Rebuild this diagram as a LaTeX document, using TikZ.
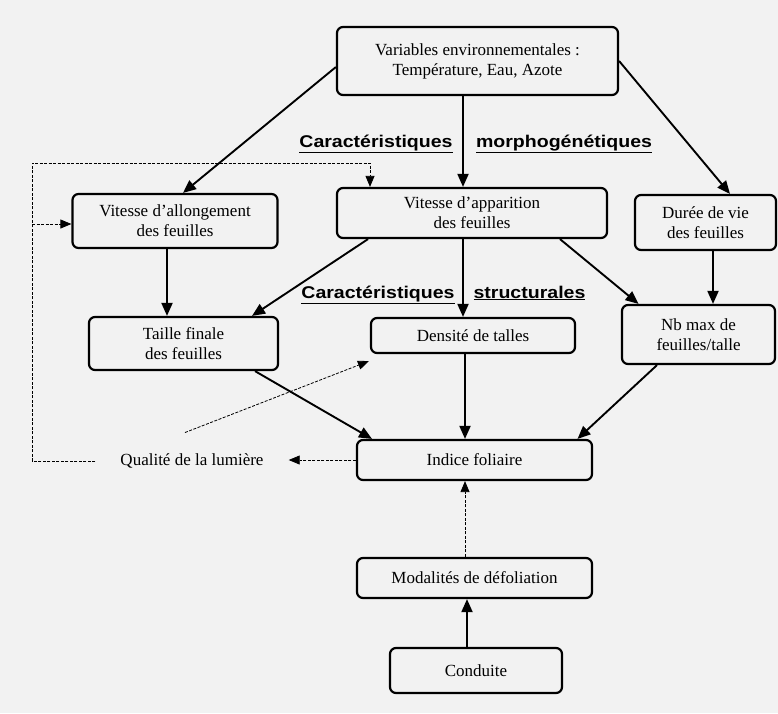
\documentclass[tikz,border=0pt]{standalone}
\usepackage{fontspec}
\setmainfont{Liberation Serif}
\newfontfamily\headfont[FakeStretch=1.15,BoldFeatures={FakeStretch=1.15}]{Liberation Sans}
\usetikzlibrary{arrows.meta}
\newcommand{\boxfont}{\fontsize{17pt}{20pt}\selectfont}
\newcommand{\hfnt}{\headfont\bfseries\fontsize{17pt}{20pt}\selectfont}
\newcommand{\hul}[1]{\underline{#1}}
\tikzset{
  box/.style={draw, line width=2.2pt, rounded corners=6pt, align=center, font=\boxfont, inner sep=2pt},
  arr/.style={line width=1.9pt, -{Triangle[length=13pt,width=11pt]}},
  darr/.style={line width=0.8pt, dash pattern=on 3pt off 1.5pt, -{Triangle[length=11pt,width=9pt]}},
  head/.style={font=\hfnt, inner sep=0pt, anchor=base},
  plain/.style={font=\boxfont, inner sep=3pt}
}
\begin{document}
\begin{tikzpicture}[x=1pt,y=-1pt]
\path[fill=black!5] (0,0) rectangle (778,713);
\useasboundingbox (0,0) rectangle (778,713);

\node[box, minimum width=281pt, minimum height=68pt] (top) at (477.5,61) {Variables environnementales :\\Température, Eau, Azote};
\node[box, minimum width=205pt, minimum height=54pt] (allong) at (175,221) {Vitesse d'allongement\\des feuilles};
\node[box, minimum width=270pt, minimum height=50pt] (appar) at (472,213) {Vitesse d'apparition\\des feuilles};
\node[box, minimum width=141pt, minimum height=55pt] (duree) at (705.5,222.5) {Durée de vie\\des feuilles};
\node[box, minimum width=189pt, minimum height=53pt] (taille) at (183.5,343.5) {Taille finale\\des feuilles};
\node[box, minimum width=204pt, minimum height=35pt] (densite) at (473,335.5) {Densité de talles};
\node[box, minimum width=153pt, minimum height=59pt] (nbmax) at (698.5,334.5) {Nb max de\\feuilles/talle};
\node[box, minimum width=235pt, minimum height=40pt] (indice) at (474.5,460) {Indice foliaire};
\node[box, minimum width=235pt, minimum height=40pt] (modal) at (474.5,578) {Modalités de défoliation};
\node[box, minimum width=172pt, minimum height=45pt] (conduite) at (476,670.5) {Conduite};
\node[plain, inner xsep=25pt] (qual) at (192,461) {Qualité de la lumière};

\node[head] (h1a) at (376,147) {\hul{Caractéristiques}};
\node[head] (h1b) at (564,147) {\hul{morphogénétiques}};
\node[head] (h2a) at (378,298) {\hul{Caractéristiques}};
\node[head] (h2b) at (529.5,298) {\hul{structurales}};

\coordinate (vA) at (463,0);
\coordinate (vB) at (465,0);
\coordinate (vC) at (467,0);
\coordinate (vL) at (167,0);
\coordinate (vR) at (713,0);
\coordinate (vF) at (370,0);
\coordinate (fbx) at (32,163);

\draw[arr] ([yshift=-6pt]top.west) -- ([xshift=8pt]allong.north);
\draw[arr] (top.south -| vA) -- (appar.north -| vA);
\draw[arr] (top.east) -- ([xshift=24.5pt]duree.north);
\draw[arr] (allong.south -| vL) -- (taille.north -| vL);
\draw[arr] ([xshift=-104pt]appar.south) -- ([xshift=68.5pt]taille.north);
\draw[arr] (appar.south -| vA) -- (densite.north -| vA);
\draw[arr] ([xshift=88pt]appar.south) -- ([xshift=-60pt]nbmax.north);
\draw[arr] (duree.south -| vR) -- (nbmax.north -| vR);
\draw[arr] ([xshift=71.5pt]taille.south) -- ([xshift=-102.5pt]indice.north);
\draw[arr] (densite.south -| vB) -- (indice.north -| vB);
\draw[arr] ([xshift=-41.5pt]nbmax.south) -- ([xshift=103pt]indice.north);
\draw[arr] (conduite.north -| vC) -- (modal.south -| vC);

\draw[darr] (indice.west) -- (indice.west -| qual.east);
\draw[darr] ([shift={(-7pt,18pt)}]qual.north) -- ([shift={(-1pt,-7pt)}]densite.south west);
\draw[darr] (qual.west) -| (fbx) -| (appar.north -| vF);
\draw[darr] ([yshift=-3pt]allong.west -| fbx) -- ([yshift=-3pt]allong.west);
\draw[darr] (modal.north -| vB) -- (indice.south -| vB);
\end{tikzpicture}
\end{document}
